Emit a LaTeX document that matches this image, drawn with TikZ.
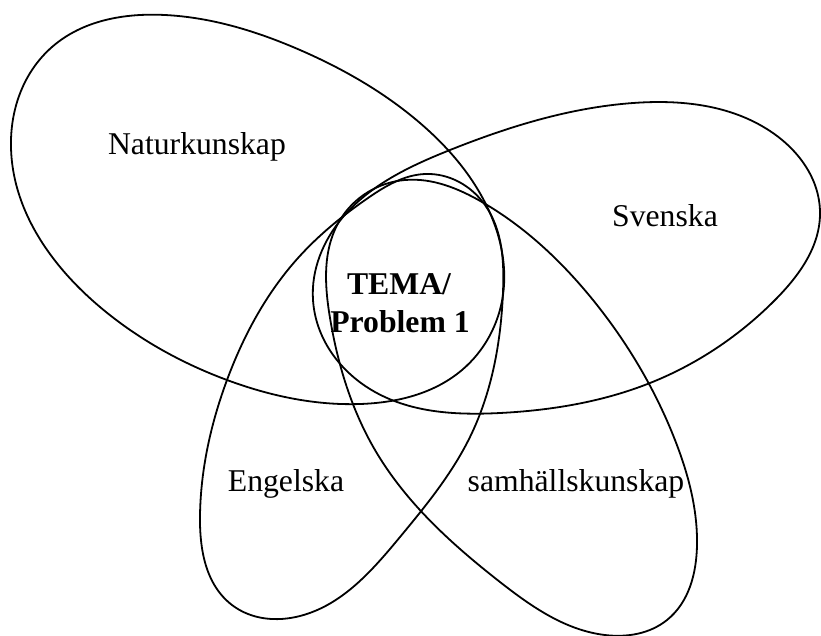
\documentclass[tikz,border=0pt]{standalone}
\usepackage{fontspec}
\setmainfont{Liberation Serif}
\usetikzlibrary{hobby}
\tikzset{
  petal/.style={line width=1.8pt, line join=round, use Hobby shortcut, closed=true},
  lab/.style={anchor=base, inner sep=0pt, font=\fontsize{31.7}{38}\selectfont},
  blab/.style={lab, font=\fontsize{31.7}{38}\selectfont\bfseries}
}
\begin{document}
\begin{tikzpicture}[x=1pt,y=-1pt]
\useasboundingbox (0,0) rectangle (821,635);
% Naturkunskap
\draw[petal] (11,140) .. (52,47) .. (165,15) .. (300,50) .. (420,123)
 .. (490,213) .. (503,295) .. (462,370) .. (360,404) .. (227,380) .. (100,307);
% Svenska
\draw[petal] (313,300) .. (343,217) .. (450,150) .. (633,103) .. (770,131)
 .. (820,212) .. (775,300) .. (650,383) .. (500,413) .. (375,392);
% Engelska
\draw[petal] (425,174) .. (485,205) .. (503,292) .. (470,437) .. (400,537)
 .. (300,616) .. (232,605) .. (200,515) .. (227,380) .. (298,258) .. (368,198);
% samhaellskunskap
\draw[petal] (405,180) .. (482,202) .. (593,300) .. (675,440) .. (697,545)
 .. (667,620) .. (605,635) .. (500,582) .. (375,450) .. (330,318) .. (340,220);
\node[lab] (nat) at (197,154) {Naturkunskap};
\node[lab] (sve) at (665,226) {Svenska};
\node[lab] (eng) at (286,491) {Engelska};
\node[lab] (sam) at (576,491) {samhällskunskap};
\node[blab] (tema) at (399,294) {TEMA/};
\node[blab] (prob) at (400,332) {Problem 1};
\end{tikzpicture}
\end{document}
